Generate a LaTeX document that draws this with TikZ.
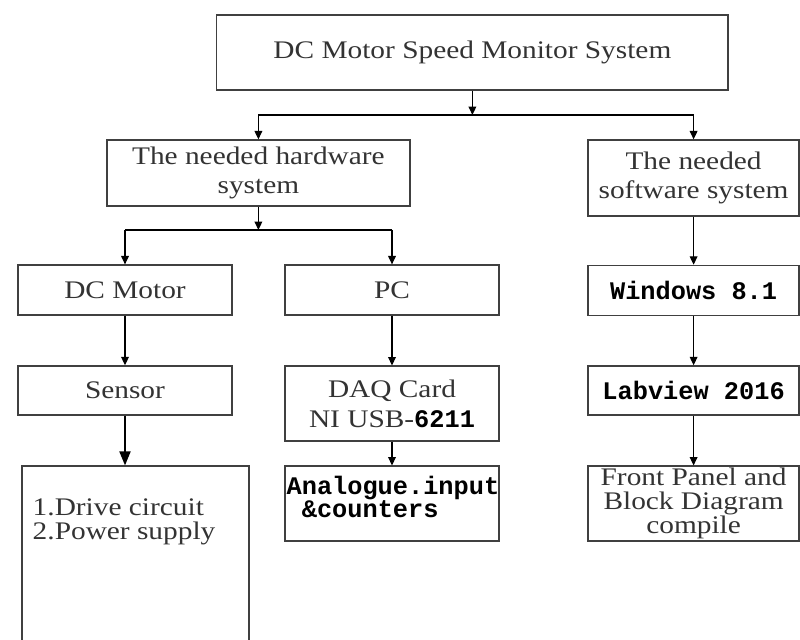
\documentclass[tikz,border=0pt]{standalone}
\usepackage{fontspec}
\setmainfont[FakeStretch=1.16]{Liberation Serif}
\newfontfamily\codefont{Liberation Mono}
\newcommand{\monotxt}[1]{{\codefont\bfseries\color{black}#1}}
\usetikzlibrary{arrows.meta}

\begin{document}
\begin{tikzpicture}[
    box/.style={draw=black!75, line width=0.9pt, inner sep=1pt, text=black!80,
      font=\fontsize{18}{20}\selectfont, align=center},
    hwcol/.style={minimum width=5.35cm},
    swcol/.style={minimum width=5.275cm},
    inbox/.style={anchor=north west, inner sep=0pt, align=left, text=black!80},
    arr/.style={-{Triangle[length=6pt,width=5.5pt]}, line width=0.8pt},
    bigarr/.style={-{Triangle[length=10pt,width=8pt]}, line width=1pt}]

  \useasboundingbox (0,0) rectangle (20,-16);

  \begin{scope}[every node/.style={box}]
    \node[minimum width=12.78cm, minimum height=1.875cm] (sys) at (11.81,-1.31) {DC Motor Speed Monitor System};
    \node[minimum width=7.575cm, minimum height=1.65cm] (hw) at (6.46,-4.325) {The needed hardware\\system};
    \node[swcol, minimum height=1.9cm] (sw) at (17.34,-4.45) {The needed\\software system};

    \node[hwcol, minimum height=1.25cm] (motor) at (3.125,-7.25) {DC Motor};
    \node[hwcol, minimum height=1.25cm] (pc) at (9.8,-7.25) {PC};
    \node[swcol, minimum height=1.25cm] (win) at (17.34,-7.26) {\monotxt{Windows 8.1}};

    \node[hwcol, minimum height=1.225cm] (sensor) at (3.125,-9.76) {Sensor};
    \node[hwcol, minimum height=1.875cm, font=\fontsize{18}{21}\selectfont] (daq) at (9.8,-10.09) {DAQ Card\\NI USB-\monotxt{6211}};
    \node[swcol, minimum height=1.225cm] (lab) at (17.34,-9.76) {\monotxt{Labview 2016}};

    \node[minimum width=5.675cm, minimum height=4.6cm] (drive) at (3.39,-13.95) {};
    \node[hwcol, minimum height=1.875cm] (ana) at (9.8,-12.59) {};
    \node[swcol, minimum height=1.875cm, inner sep=0pt, font=\fontsize{18}{17}\selectfont] (fp) at (17.34,-12.59) {Front Panel and\\Block Diagram\\compile};
  \end{scope}

  % texts sitting at the top of their boxes
  \node[inbox, font=\fontsize{18}{17}\selectfont] (drivetxt) at ([shift={(0.275,-0.83)}]drive.north west) {1.Drive circuit\\2.Power supply};
  \node[inbox, font=\fontsize{18}{15}\selectfont] (anatxt) at ([shift={(0.05,-0.25)}]ana.north west) {\monotxt{Analogue.input}\\\monotxt{\ \&counters}};

  \coordinate (split1) at (11.81,-2.875);
  \coordinate (split2) at (6.46,-5.75);

  \draw[arr] (sys.south) -- (split1);
  \draw[line width=0.8pt] (split1 -| hw) -- (split1 -| sw);
  \draw[arr] (split1 -| hw) -- (hw.north);
  \draw[arr] (split1 -| sw) -- (sw.north);

  \draw[arr] (hw.south) -- (split2);
  \draw[line width=0.8pt] (split2 -| motor) -- (split2 -| pc);
  \draw[arr] (split2 -| motor) -- (motor.north);
  \draw[arr] (split2 -| pc) -- (pc.north);

  \path (motor) edge[arr] (sensor);
  \path (sensor.south) edge[bigarr] (sensor.south |- drive.north);
  \path (pc) edge[arr] (daq);
  \path (daq) edge[arr] (ana);
  \path (sw) edge[arr] (win);
  \path (win) edge[arr] (lab);
  \path (lab) edge[arr] (fp);

\end{tikzpicture}
\end{document}
